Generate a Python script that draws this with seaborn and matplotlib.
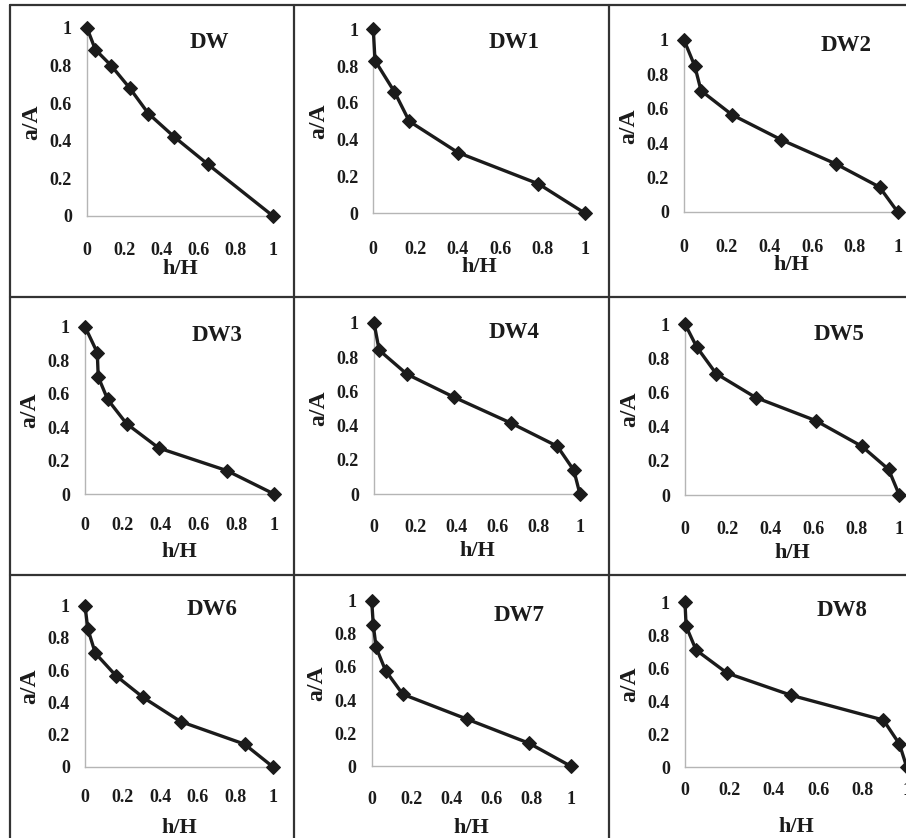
import matplotlib
matplotlib.use("Agg")
import matplotlib.pyplot as plt
import seaborn as sns
import pandas as pd
from matplotlib.lines import Line2D

# ---------------- data ----------------
panel_names = ["DW", "DW1", "DW2", "DW3", "DW4", "DW5", "DW6", "DW7", "DW8"]

dw_h = [0, 0.045, 0.13, 0.23, 0.33, 0.47, 0.65, 1]
dw_a = [1, 0.885, 0.80, 0.68, 0.545, 0.42, 0.275, 0]

dw1_h = [0, 0.008, 0.10, 0.17, 0.40, 0.78, 1]
dw1_a = [1, 0.83, 0.66, 0.50, 0.33, 0.16, 0]

dw2_h = [0, 0.05, 0.08, 0.225, 0.455, 0.71, 0.915, 1]
dw2_a = [1, 0.85, 0.705, 0.565, 0.42, 0.28, 0.145, 0]

dw3_h = [0, 0.065, 0.07, 0.12, 0.22, 0.39, 0.75, 1]
dw3_a = [1, 0.845, 0.70, 0.565, 0.42, 0.275, 0.14, 0]

dw4_h = [0, 0.025, 0.16, 0.39, 0.665, 0.89, 0.97, 1]
dw4_a = [1, 0.84, 0.70, 0.565, 0.415, 0.28, 0.14, 0]

dw5_h = [0, 0.055, 0.145, 0.33, 0.61, 0.825, 0.95, 1]
dw5_a = [1, 0.865, 0.71, 0.57, 0.435, 0.285, 0.15, 0]

dw6_h = [0, 0.015, 0.055, 0.165, 0.31, 0.51, 0.85, 1]
dw6_a = [1, 0.855, 0.705, 0.565, 0.43, 0.28, 0.14, 0]

dw7_h = [0, 0.008, 0.022, 0.07, 0.156, 0.48, 0.79, 1]
dw7_a = [1, 0.853, 0.718, 0.577, 0.435, 0.284, 0.139, 0]

dw8_h = [0, 0.005, 0.05, 0.19, 0.48, 0.895, 0.967, 1]
dw8_a = [1, 0.855, 0.71, 0.57, 0.435, 0.285, 0.14, 0]

tick_values = [0, 0.2, 0.4, 0.6, 0.8, 1]
tick_labels = ["0", "0.2", "0.4", "0.6", "0.8", "1"]

series_h = [dw_h, dw1_h, dw2_h, dw3_h, dw4_h, dw5_h, dw6_h, dw7_h, dw8_h]
series_a = [dw_a, dw1_a, dw2_a, dw3_a, dw4_a, dw5_a, dw6_a, dw7_a, dw8_a]

rows = []
for name, hs, as_ in zip(panel_names, series_h, series_a):
    for i, (h, a) in enumerate(zip(hs, as_)):
        rows.append({"panel": name, "order": i, "h/H": h, "a/A": a})
df = pd.DataFrame(rows)

# ---------------- layout (pixels in a 906x838 canvas) ----------------
W, H = 906, 838
# x of value 0, x of value 1, y of value 1, y of value 0
boxes = [
    (87, 273, 28, 216), (373.3, 585, 29.3, 213.3), (684, 897.7, 40, 212),
    (85, 274, 326.7, 494), (374, 580, 322.7, 494.3), (685, 899.3, 324, 495),
    (85, 272.7, 605.7, 766.7), (371.7, 571, 600.7, 766.3), (685, 906.7, 602.3, 767),
]
title_pos = [(0.656, 0.925), (0.665, 0.93), (0.76, 0.97),
             (0.70, 0.95), (0.68, 0.94), (0.72, 0.94),
             (0.675, 0.975), (0.74, 0.91), (0.71, 0.95)]
xtick_off = [32, 34, 33, 29, 31, 32, 28, 31, 21]
xlabel_off = [53, 54, 53, 58, 57, 58, 61, 62, 60]
ylabel_off = 55

sns.set_style("white")
plt.rcParams["font.family"] = ["Liberation Serif", "DejaVu Serif"]
plt.rcParams["font.weight"] = "bold"

ink = "#1b1b1b"
fig = plt.figure(figsize=(W / 100, H / 100), dpi=100)
fig.patch.set_facecolor("white")

for k, name in enumerate(panel_names):
    x0, x1, yt, yb = boxes[k]
    wpx, hpx = x1 - x0, yb - yt
    ax = fig.add_axes([x0 / W, 1 - yb / H, wpx / W, hpx / H])
    ax.set_facecolor("none")
    sub = df[df["panel"] == name]
    sns.lineplot(data=sub, x="h/H", y="a/A", ax=ax, sort=False, estimator=None,
                 color=ink, linewidth=2.4, marker="D", markersize=7.0,
                 markeredgecolor=ink, markerfacecolor=ink, clip_on=False)
    ax.set_xlim(0, 1)
    ax.set_ylim(0, 1)
    ax.set_xticks(tick_values)
    ax.set_xticklabels(tick_labels)
    ax.set_yticks(tick_values)
    ax.set_yticklabels(tick_labels)
    for s in ["top", "right"]:
        ax.spines[s].set_visible(False)
    for s in ["left", "bottom"]:
        ax.spines[s].set_color("#b5b5b5")
        ax.spines[s].set_linewidth(1.0)
        ax.spines[s].set_zorder(0)
    tl_len = 3.0
    ax.tick_params(axis="x", direction="out", length=tl_len, width=1, color="#b5b5b5",
                   labelsize=13, labelcolor=ink,
                   pad=(xtick_off[k] - 6 - 4) * 0.72)
    ax.tick_params(axis="y", direction="out", length=tl_len, width=1, color="#b5b5b5",
                   labelsize=13, labelcolor=ink, pad=(15 - 4) * 0.72)
    for lab in ax.get_xticklabels() + ax.get_yticklabels():
        lab.set_fontweight("bold")
    ax.set_xlabel("h/H", fontsize=16, fontweight="bold", color=ink)
    ax.set_ylabel("a/A", fontsize=17, fontweight="bold", color=ink)
    ax.xaxis.label.set_va("center")
    ax.yaxis.label.set_va("center")
    ax.xaxis.set_label_coords(0.5, -xlabel_off[k] / hpx)
    ax.yaxis.set_label_coords(-ylabel_off / wpx, 0.5)
    tx, ty = title_pos[k]
    ax.text(tx, ty, name, transform=ax.transAxes, ha="center", va="center",
            fontsize=16.5, fontweight="bold", color=ink)

# panel frame lines
frame_col = "#333333"
for xv in [10, 294.3, 608.5]:
    fig.add_artist(Line2D([xv / W, xv / W], [0, 1 - 5 / H], color=frame_col, lw=1.6))
for yv in [5, 297, 575]:
    fig.add_artist(Line2D([10 / W, 1], [1 - yv / H, 1 - yv / H], color=frame_col, lw=1.6))

fig.savefig("out.png", dpi=100, facecolor="white")
